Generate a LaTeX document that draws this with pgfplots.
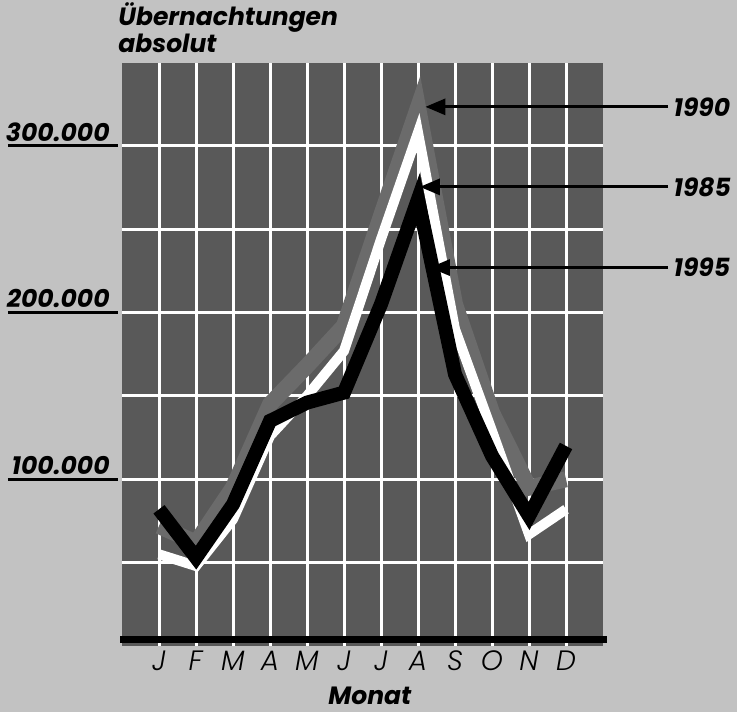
\documentclass[border=0pt]{standalone}
\usepackage{fontspec}
\setmainfont{Poppins}
\newfontfamily\lightfont{Poppins}[UprightFont={* Light}, ItalicFont={* Light Italic}]
\usepackage{pgfplots}
\pgfplotsset{compat=1.18}
\usetikzlibrary{arrows.meta}
\definecolor{bg}{gray}{0.76}
\definecolor{plotbg}{gray}{0.35}
\definecolor{lineA}{gray}{0.42}
\newcommand{\lab}{\bfseries\itshape\fontsize{12.5}{13.5}\selectfont}
\begin{document}
\begin{tikzpicture}
\fill[bg] (-61pt,-33pt) rectangle (307.5pt,323pt);
\begin{axis}[
  scale only axis, width=240.5pt, height=291.75pt,
  xmin=0, xmax=13, ymin=0, ymax=350000,
  clip=false,
  axis background/.style={fill=plotbg},
  axis line style={draw=none},
  xtick={1,...,12},
  xticklabels={\textit{J},\textit{F},\textit{M},\textit{A},\textit{M},\textit{J},\textit{J},\textit{A},\textit{S},\textit{O},\textit{N},\textit{D}},
  xticklabel style={font=\lightfont\fontsize{14}{14}\selectfont, anchor=north, yshift=1pt},
  ytick={50000,100000,150000,200000,250000,300000},
  yticklabels={},
  scaled y ticks=false,
  major tick length=0pt,
  grid=major,
  major grid style={white, line width=1.5pt},
]
% 1990 (faint grey)
\addplot[lineA, line width=8pt, line join=miter] coordinates {
 (1,72000) (2,62000) (3,95000) (4,145000) (5,168000) (6,192000)
 (7,258000) (8,323000) (9,205000) (10,140000) (11,95000) (12,100000)};
% white line
\addplot[white, line width=5pt, line join=miter] coordinates {
 (1,55000) (2,48000) (3,76000) (4,126000) (5,150000) (6,177000)
 (7,244000) (8,308000) (9,190000) (10,129000) (11,67000) (12,82000)};
% black line
\addplot[black, line width=7pt, line join=miter] coordinates {
 (1,82000) (2,53000) (3,85000) (4,135000) (5,146000) (6,152000)
 (7,205000) (8,268000) (9,163000) (10,114000) (11,78000) (12,120000)};

% baseline
\draw[line width=3.5pt] ([xshift=-1pt]axis cs:0,3800) -- ([xshift=2pt]axis cs:13,3800);

% y labels with underlines
\draw[line width=1.4pt] ([xshift=-57pt]axis cs:0,100000) -- ([xshift=-2pt]axis cs:0,100000);
\draw[line width=1.4pt] ([xshift=-57pt]axis cs:0,200000) -- ([xshift=-2pt]axis cs:0,200000);
\draw[line width=1.4pt] ([xshift=-57pt]axis cs:0,300000) -- ([xshift=-2pt]axis cs:0,300000);
\node[anchor=south east, inner sep=0pt, font=\lab] at ([xshift=-6pt,yshift=2pt]axis cs:0,100000) {100.000};
\node[anchor=south east, inner sep=0pt, font=\lab] at ([xshift=-6pt,yshift=2pt]axis cs:0,200000) {200.000};
\node[anchor=south east, inner sep=0pt, font=\lab] at ([xshift=-6pt,yshift=2pt]axis cs:0,300000) {300.000};

% title
\node[anchor=north west, align=left, inner sep=0pt, font=\lab] at ([xshift=-2pt,yshift=30pt]axis cs:0,350000) {Übernachtungen\\absolut};

% x label
\node[font=\lab] at ([yshift=-25pt]axis cs:6.7,0) {Monat};

% arrows and years
\draw[line width=1.5pt, -{Triangle[length=10pt,width=8pt]}] (axis cs:14.76,323400) -- (axis cs:8.2,323400);
\draw[line width=1.5pt, -{Triangle[length=10pt,width=8pt]}] (axis cs:14.76,275400) -- (axis cs:8.05,275400);
\draw[line width=1.5pt, -{Triangle[length=10pt,width=8pt]}] (axis cs:14.76,227000) -- (axis cs:8.32,227000);
\node[anchor=west, inner sep=0pt, font=\lab] at (axis cs:14.9,323400) {1990};
\node[anchor=west, inner sep=0pt, font=\lab] at (axis cs:14.9,275400) {1985};
\node[anchor=west, inner sep=0pt, font=\lab] at (axis cs:14.9,227000) {1995};
\end{axis}
\pgfresetboundingbox
\path (-61pt,-33pt) rectangle (307.5pt,323pt);
\end{tikzpicture}
\end{document}
